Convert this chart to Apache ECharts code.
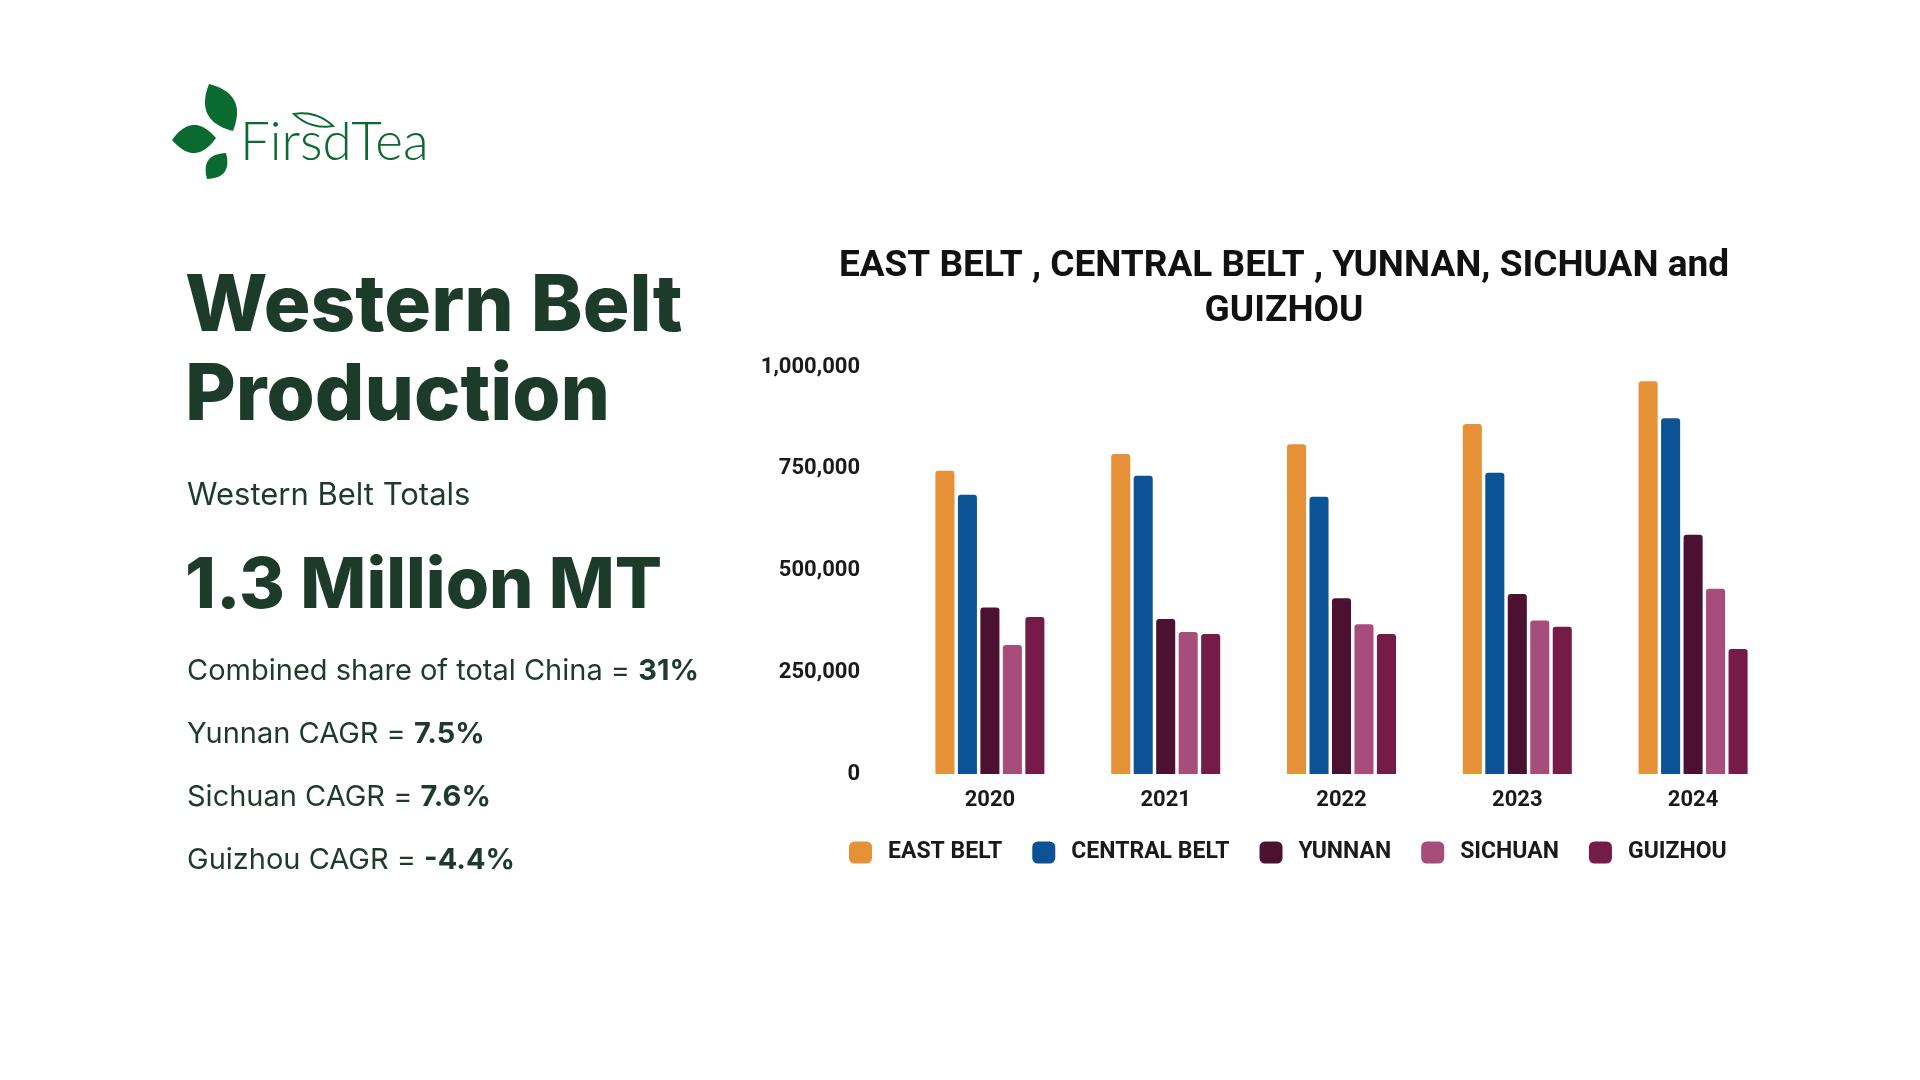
<!DOCTYPE html>
<html>
<head>
<meta charset="utf-8">
<title>Western Belt Production</title>
<script src="https://cdn.jsdelivr.net/npm/echarts@6/dist/echarts.min.js"></script>
<style>
  html, body { margin: 0; padding: 0; background: #ffffff; }
  #echarts { width: 1920px; height: 1080px; }
</style>
</head>
<body>
<div id="echarts"></div>
<script>
// Dados do gráfico
var years = ['2020', '2021', '2022', '2023', '2024'];
var eastBelt = [745000, 786000, 810000, 860000, 965000];
var centralBelt = [686000, 733000, 681000, 740000, 874000];
var yunnan = [409000, 381000, 432000, 442000, 588000];
var sichuan = [317000, 349000, 368000, 377000, 455000];
var guizhou = [386000, 344000, 344000, 362000, 307000];
var yTicks = [0, 250000, 500000, 750000, 1000000];

var seriesNames = ['EAST BELT', 'CENTRAL BELT', 'YUNNAN', 'SICHUAN', 'GUIZHOU'];
var seriesColors = ['#e69138', '#0b5394', '#4c1130', '#a64d79', '#741b47'];

var chart = echarts.init(document.getElementById('echarts'));

var dark = '#1c3b2b';
var leafGreen = '#0b6a2f';

// Folha do logo: pontos de um contorno entre duas pontas, com largura w
function leafPoints(x1, y1, x2, y2, w) {
    var mx = (x1 + x2) / 2, my = (y1 + y2) / 2;
    var dx = x2 - x1, dy = y2 - y1;
    var len = Math.sqrt(dx * dx + dy * dy);
    var nx = -dy / len * w, ny = dx / len * w;
    var pts = [];
    function quad(ax, ay, cx, cy, bx, by) {
        for (var t = 0; t <= 1.0001; t += 0.05) {
            var u = 1 - t;
            pts.push([u * u * ax + 2 * u * t * cx + t * t * bx, u * u * ay + 2 * u * t * cy + t * t * by]);
        }
    }
    quad(x1, y1, mx + nx, my + ny, x2, y2);
    quad(x2, y2, mx - nx, my - ny, x1, y1);
    return pts;
}

var textFont = 'Inter, "Noto Sans", sans-serif';

var options = {
    backgroundColor: '#ffffff',
    title: {
        text: 'EAST BELT , CENTRAL BELT , YUNNAN, SICHUAN and\nGUIZHOU',
        left: 1279,
        top: 239,
        textAlign: 'center',
        textStyle: {
            fontFamily: 'Roboto, sans-serif',
            fontWeight: 'bold',
            fontSize: 37,
            lineHeight: 45,
            color: '#111111'
        }
    },
    legend: {
        data: seriesNames,
        left: 844,
        top: 836,
        itemWidth: 23,
        itemHeight: 22,
        itemGap: 30,
        icon: 'roundRect',
        textStyle: {
            fontFamily: 'Roboto, sans-serif',
            fontWeight: 'bold',
            fontSize: 23,
            color: '#1a1a1a',
            padding: [0, 0, 0, 11]
        }
    },
    grid: {
        left: 902,
        right: 139,
        top: 367,
        bottom: 306
    },
    xAxis: {
        type: 'category',
        data: years,
        axisLine: { show: false },
        axisTick: { show: false },
        axisLabel: {
            margin: 15,
            fontFamily: 'Roboto, sans-serif',
            fontWeight: 'bold',
            fontSize: 22,
            color: '#1a1a1a'
        }
    },
    yAxis: {
        type: 'value',
        min: yTicks[0],
        max: yTicks[yTicks.length - 1],
        interval: yTicks[1] - yTicks[0],
        splitLine: { show: false },
        axisLine: { show: false },
        axisTick: { show: false },
        axisLabel: {
            margin: 42,
            fontFamily: 'Roboto, sans-serif',
            fontWeight: 'bold',
            fontSize: 22,
            color: '#1a1a1a',
            formatter: function (v) {
                return v.toLocaleString('en-US');
            }
        }
    },
    series: [eastBelt, centralBelt, yunnan, sichuan, guizhou].map(function (values, i) {
        return {
            name: seriesNames[i],
            type: 'bar',
            data: values,
            barCategoryGap: '38%',
            barGap: '18%',
            itemStyle: {
                color: seriesColors[i],
                borderRadius: [3, 3, 0, 0]
            }
        };
    }),
    graphic: [
        // Logo
        { type: 'polygon', shape: { points: leafPoints(209, 84, 233, 131, 30) }, style: { fill: leafGreen } },
        { type: 'polygon', shape: { points: leafPoints(172, 140, 216, 138, 28) }, style: { fill: leafGreen } },
        { type: 'polygon', shape: { points: leafPoints(226, 153, 207, 179, 20) }, style: { fill: leafGreen } },
        { type: 'polygon', shape: { points: leafPoints(294, 114, 333, 126, 10) }, style: { fill: 'none', stroke: leafGreen, lineWidth: 2 } },
        {
            type: 'text', left: 240, top: 116,
            style: { text: 'FirsdTea', fontFamily: 'Lato, sans-serif', fontWeight: 300, fontSize: 53, fill: leafGreen }
        },
        // Texto à esquerda
        {
            type: 'text', left: 185, top: 263,
            style: {
                text: 'Western Belt\nProduction',
                fontFamily: textFont, fontWeight: 800, fontSize: 78, lineHeight: 89, fill: dark
            }
        },
        {
            type: 'text', left: 187, top: 480,
            style: { text: 'Western Belt Totals', fontFamily: textFont, fontWeight: 400, fontSize: 31, fill: dark }
        },
        {
            type: 'text', left: 185, top: 552,
            style: { text: '1.3 Million MT', fontFamily: textFont, fontWeight: 800, fontSize: 70, fill: dark }
        },
        {
            type: 'text', left: 187, top: 657,
            style: {
                text: 'Combined share of total China = {b|31%}',
                fontFamily: textFont, fontSize: 29, fill: dark,
                rich: { b: { fontFamily: textFont, fontWeight: 700, fontSize: 29, fill: dark } }
            }
        },
        {
            type: 'text', left: 187, top: 720,
            style: {
                text: 'Yunnan CAGR = {b|7.5%}',
                fontFamily: textFont, fontSize: 29, fill: dark,
                rich: { b: { fontFamily: textFont, fontWeight: 700, fontSize: 29, fill: dark } }
            }
        },
        {
            type: 'text', left: 187, top: 783,
            style: {
                text: 'Sichuan CAGR = {b|7.6%}',
                fontFamily: textFont, fontSize: 29, fill: dark,
                rich: { b: { fontFamily: textFont, fontWeight: 700, fontSize: 29, fill: dark } }
            }
        },
        {
            type: 'text', left: 187, top: 846,
            style: {
                text: 'Guizhou CAGR = {b|-4.4%}',
                fontFamily: textFont, fontSize: 29, fill: dark,
                rich: { b: { fontFamily: textFont, fontWeight: 700, fontSize: 29, fill: dark } }
            }
        }
    ]
};

chart.setOption(options);
</script>
</body>
</html>
